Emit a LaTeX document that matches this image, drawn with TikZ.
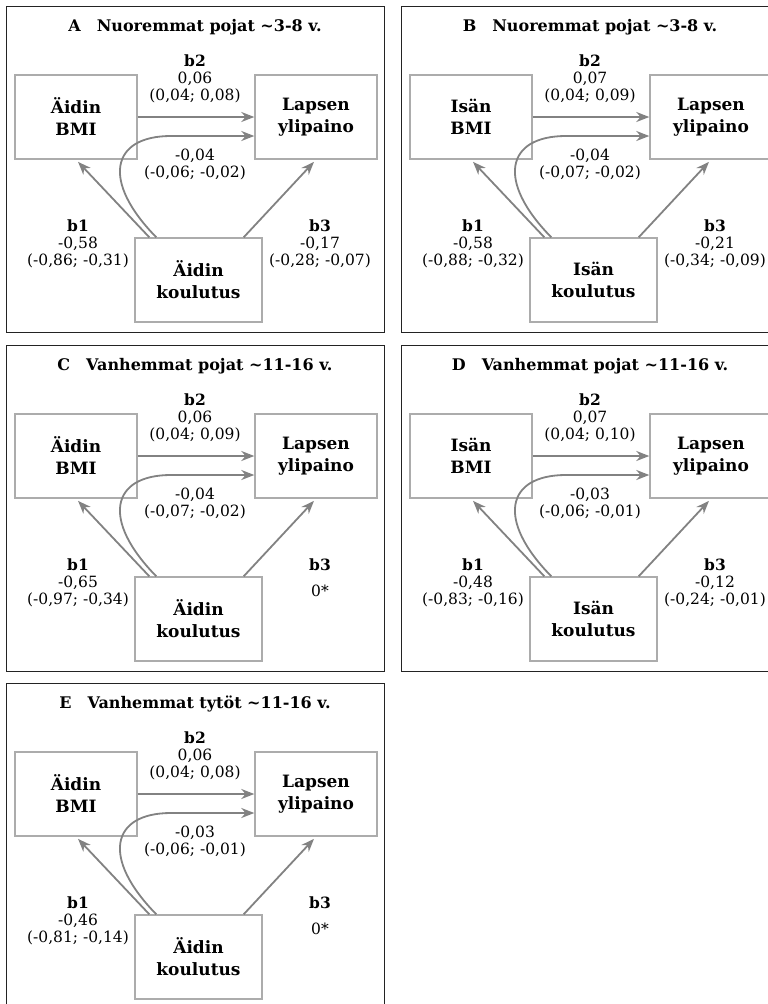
\documentclass[tikz,border=0pt]{standalone}
\usepackage{fontspec}
\setmainfont{DejaVu Serif}
\usepackage{xcolor}
\usetikzlibrary{arrows.meta, positioning}
\definecolor{arrowgray}{RGB}{130,130,130}
\definecolor{boxgray}{RGB}{172,172,172}
\definecolor{framegray}{RGB}{35,35,35}
\tikzset{
  panelframe/.style={
    rectangle, draw=framegray, line width=1pt, fill=white,
    minimum width=378pt, minimum height=326pt, inner sep=0pt
  },
  paneltitle/.style={
    font=\fontsize{16}{19}\selectfont\bfseries, inner sep=0pt
  },
  varbox/.style={
    rectangle, draw=boxgray, fill=white, line width=1.4pt,
    minimum width=122pt, minimum height=84pt, inner sep=0pt,
    font=\fontsize{17}{22}\selectfont\bfseries, align=center
  },
  coef/.style={
    font=\fontsize{15.5}{17}\selectfont, align=center, inner sep=0pt, anchor=north
  },
  patharrow/.style={-{Stealth[length=13pt, width=10pt]}, line width=1.8pt, draw=arrowgray},
}
% #1 shift, #2 panel, #3 title, #4 parent, #5 b2, #6 indirect, #7 b1, #8 b3
\newcommand{\pathpanel}[8]{%
  \begin{scope}[shift={#1}]
    \node[panelframe] (#2frame) at (189,163) {};
    \node[paneltitle] (#2title) at (189,21) {#2\quad #3};
    \node[varbox] (#2bmi) at (70,111) {#4\\BMI};
    \node[varbox] (#2child) at (310,111) {Lapsen\\ylipaino};
    \node[varbox, minimum width=127pt] (#2edu) at (192.5,274) {#4\\koulutus};
    \coordinate (#2bend) at (165,130);
    %% coefficients
    \node[coef] (#2b2) at (189,49) {\textbf{b2}\\#5};
    \node[coef] (#2ind) at (189,143) {#6};
    \node[coef] (#2b1) at (72,214) {\textbf{b1}\\#7};
    \node[coef] (#2b3) at (314,214) {\textbf{b3}\\#8};
    %% arrows
    \draw[patharrow] (#2bmi) -- (#2child);
    \draw[patharrow] ([xshift=22pt]#2edu.north west) .. controls (95,175) and (105,130) .. (#2bend) -- ([yshift=-19pt]#2child.west);
    \draw[patharrow, shorten >=3pt] ([xshift=15pt]#2edu.north west) -- (#2bmi.south);
    \draw[patharrow, shorten >=3pt] ([xshift=-19pt]#2edu.north east) -- (#2child.south);
  \end{scope}}

\begin{document}
\begin{tikzpicture}[x=1pt, y=-1pt]
  \path[use as bounding box, clip] (0,0) rectangle (768,1004);
  \fill[white] (0,0) rectangle (768,1004);

  \pathpanel{(6,6)}{A}{Nuoremmat pojat \textasciitilde3-8 v.}{Äidin}
    {0,06\\(0,04; 0,08)}{-0,04\\(-0,06; -0,02)}
    {-0,58\\(-0,86; -0,31)}{-0,17\\(-0,28; -0,07)}
  \pathpanel{(401,6)}{B}{Nuoremmat pojat \textasciitilde3-8 v.}{Isän}
    {0,07\\(0,04; 0,09)}{-0,04\\(-0,07; -0,02)}
    {-0,58\\(-0,88; -0,32)}{-0,21\\(-0,34; -0,09)}
  \pathpanel{(6,345)}{C}{Vanhemmat pojat \textasciitilde11-16 v.}{Äidin}
    {0,06\\(0,04; 0,09)}{-0,04\\(-0,07; -0,02)}
    {-0,65\\(-0,97; -0,34)}{[9pt]0*}
  \pathpanel{(401,345)}{D}{Vanhemmat pojat \textasciitilde11-16 v.}{Isän}
    {0,07\\(0,04; 0,10)}{-0,03\\(-0,06; -0,01)}
    {-0,48\\(-0,83; -0,16)}{-0,12\\(-0,24; -0,01)}
  \pathpanel{(6,683)}{E}{Vanhemmat tytöt \textasciitilde11-16 v.}{Äidin}
    {0,06\\(0,04; 0,08)}{-0,03\\(-0,06; -0,01)}
    {-0,46\\(-0,81; -0,14)}{[9pt]0*}
\end{tikzpicture}
\end{document}
